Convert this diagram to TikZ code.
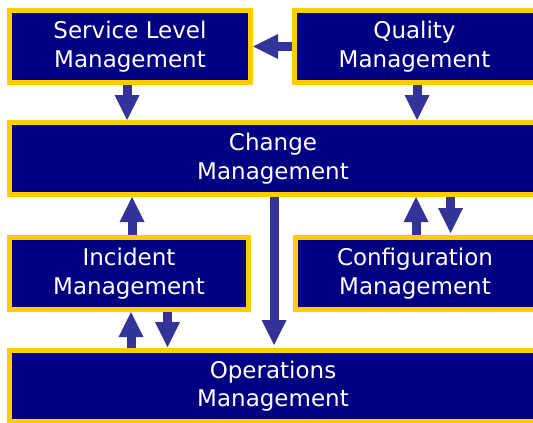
\documentclass[tikz,border=0pt]{standalone}
\usepackage{fontspec}
\setmainfont{DejaVu Sans}
\usetikzlibrary{arrows.meta}
\definecolor{navy}{HTML}{000080}
\definecolor{gold}{HTML}{FFCC00}
\definecolor{arrowblue}{HTML}{333399}
\tikzset{
  box/.style={draw=gold, fill=navy, line width=5pt, outer sep=2.5pt,
    text=white, align=center, inner sep=0pt,
    font={\fontsize{23}{28.5}\selectfont}},
  arr/.style={draw=arrowblue, line width=9pt,
    -{Triangle[width=25pt,length=25pt,line width=0pt]}}
}
\begin{document}
\begin{tikzpicture}[x=1pt,y=-1pt]
\useasboundingbox (0,0) rectangle (533,423);
\fill[white] (0,0) rectangle (533,423);
\begin{scope}
\clip (0,0) rectangle (533,423);
\node[box, minimum width=241pt, minimum height=72pt] (slm) at (130,46.5) {Service Level\\Management};
\node[box, minimum width=246pt, minimum height=72pt] (qual) at (417.5,46.5) {\hspace*{-6pt}Quality\\\hspace*{-6pt}Management};
\node[box, minimum width=531pt, minimum height=72pt] (chg) at (275,158.5) {\hspace*{-4pt}Change\\\hspace*{-4pt}Management};
\node[box, minimum width=239pt, minimum height=72pt] (inc) at (129,273.5) {Incident\\Management};
\node[box, minimum width=245pt, minimum height=72pt] (cfg) at (418,273.5) {\hspace*{-6pt}Configuration\\\hspace*{-6pt}Management};
\node[box, minimum width=531pt, minimum height=71pt] (ops) at (275,386) {\hspace*{-4pt}Operations\\\hspace*{-4pt}Management};
\end{scope}
\draw[arr] (qual.west) -- (slm.east);
\draw[arr] ([xshift=-3pt]slm.south) -- ([xshift=-3pt]slm.south |- chg.north);
\draw[arr] ([xshift=-0.5pt]qual.south) -- ([xshift=-0.5pt]qual.south |- chg.north);
\draw[arr] ([xshift=-1pt]chg.south) -- ([xshift=-1pt,yshift=3pt]chg.south |- ops.north);
\draw[arr] ([xshift=3pt]inc.north) -- ([xshift=3pt]inc.north |- chg.south);
\draw[arr] ([xshift=2pt]ops.north -| inc.north) -- ([xshift=2pt]inc.south);
\draw[arr] ([xshift=38.5pt]inc.south) -- ([xshift=38.5pt,yshift=1pt]inc.south |- ops.north);
\draw[arr] ([xshift=-2pt]cfg.north) -- ([xshift=-2pt]cfg.north |- chg.south);
\draw[arr] ([xshift=32.5pt]cfg.north |- chg.south) -- ([xshift=32.5pt,yshift=2pt]cfg.north);
\end{tikzpicture}
\end{document}
